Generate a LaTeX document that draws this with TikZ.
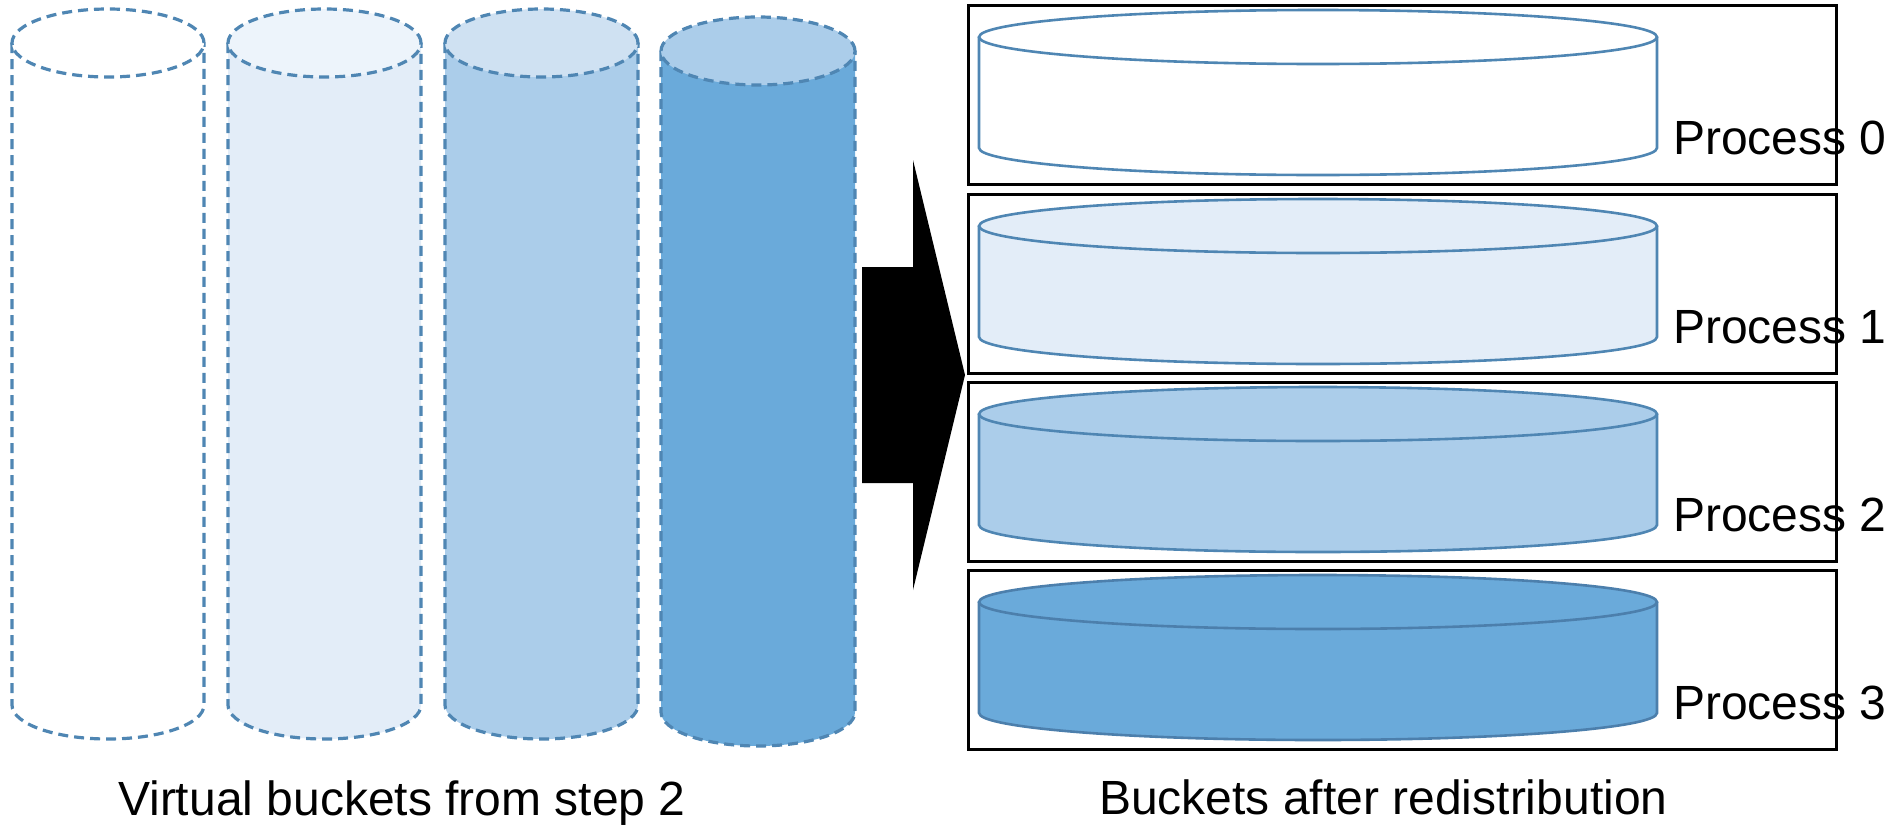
\documentclass[tikz,border=0pt]{standalone}
\usepackage{fontspec}
\setmainfont{Liberation Sans}
\definecolor{edgeblue}{HTML}{4F86B3}
\definecolor{edgedark}{HTML}{4C7FAC}
\definecolor{tintA}{HTML}{E3EDF8}
\definecolor{tintAtop}{HTML}{EDF4FB}
\definecolor{tintB}{HTML}{ABCDEA}
\definecolor{tintBtop}{HTML}{CFE1F2}
\definecolor{tintC}{HTML}{6AAADA}
\tikzset{
  vedge/.style={draw=edgeblue, line width=3.2pt, dash pattern=on 10pt off 6pt},
  sedge/.style={draw=edgeblue, line width=2.6pt},
  procbox/.style={draw=black, line width=3pt},
  lbl/.style={inner sep=0pt, font=\fontsize{48}{57}\selectfont},
}
% upright cylinder: #1 left x, #2 right x, #3 top centre y, #4 bottom centre y,
% #5 half height of the end ellipse, #6 body fill, #7 top fill, #8 edge style
\newcommand{\drum}[8]{%
  \pgfmathsetmacro{\drumrx}{(#2-#1)/2}%
  \pgfmathsetmacro{\drumcx}{(#1+#2)/2}%
  \fill[#6] (#1,#3) -- (#1,#4)
    arc[start angle=180, end angle=360, x radius=\drumrx pt, y radius=#5pt]
    -- (#2,#3) -- cycle;
  \draw[#8] (#1,#3) -- (#1,#4)
    arc[start angle=180, end angle=360, x radius=\drumrx pt, y radius=#5pt]
    -- (#2,#3);
  \draw[#8, fill=#7] (\drumcx,#3) ellipse [x radius=\drumrx pt, y radius=#5pt];
}
\begin{document}
\begin{tikzpicture}[x=1pt, y=-1pt]
\useasboundingbox (0,0) rectangle (1884,825);

% virtual buckets
\drum{12}{204}{43}{705}{34}{white}{white}{vedge}
\drum{228}{421}{43}{705}{34}{tintA}{tintAtop}{vedge}
\drum{445}{638}{43}{705}{34}{tintB}{tintBtop}{vedge}
\drum{661}{855}{51}{712}{34}{tintC}{tintB}{vedge}

% block arrow
\fill[black] (862,267) -- (913,267) -- (913,160) -- (965,375)
  -- (913,590) -- (913,483) -- (862,483) -- cycle;

% process boxes with their buckets
\foreach \t/\bf/\ed/\n in {5/white/edgeblue/0, 194/tintA/edgeblue/1,
                           382/tintB/edgeblue/2, 570/tintC/edgedark/3}{
  \draw[procbox] (968,\t) rectangle (1836,\t+179);
  \drum{979}{1657}{\t+32}{\t+143}{27}{\bf}{\bf}{sedge, draw=\ed}
  \node[lbl, anchor=base west] (proc\n) at (1673,\t+149) {Process \n};
}

\node[lbl, anchor=base west] (vlabel) at (118,815) {Virtual buckets from step 2};
\node[lbl, anchor=base west] (blabel) at (1099,814) {Buckets after redistribution};
\end{tikzpicture}
\end{document}
